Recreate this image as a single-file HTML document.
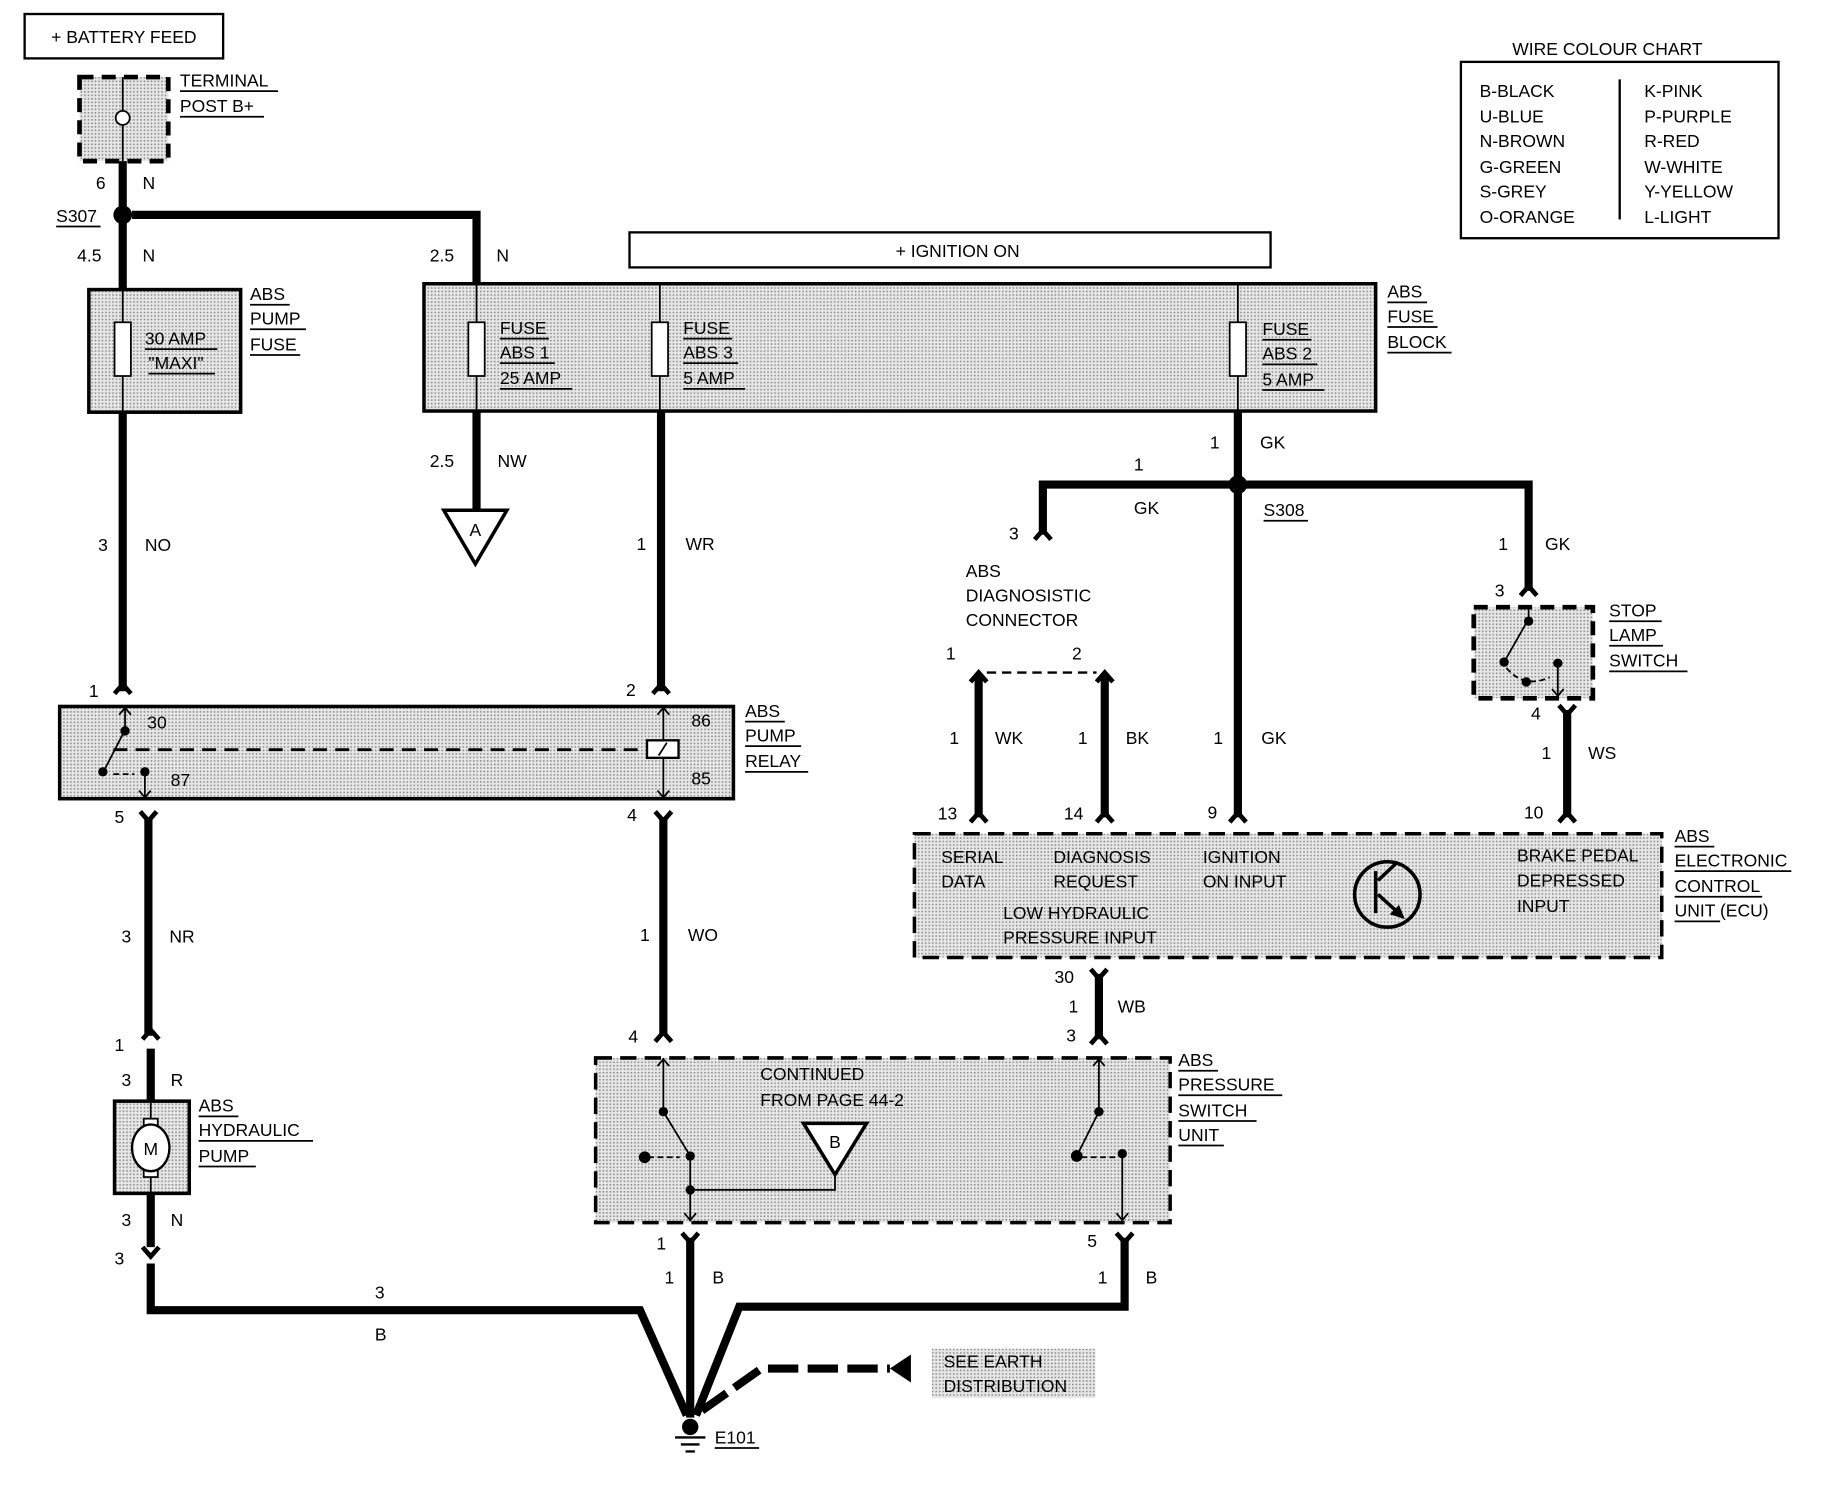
<!DOCTYPE html>
<html><head><meta charset="utf-8"><style>
html,body{margin:0;padding:0;background:#fff;}
svg{display:block;}
text{font-family:"Liberation Sans",Arial,sans-serif;font-size:15px;fill:#000;}
</style></head><body>
<svg width="1830" height="1504" viewBox="0 0 1567 1288" xmlns="http://www.w3.org/2000/svg">
<defs>
<pattern id="st" width="3" height="3" patternUnits="userSpaceOnUse">
<rect width="3" height="3" fill="#e6e6e6"/><rect width="1.3" height="1.3" fill="#8a8a8a"/>
</pattern>
<g id="cu"><path d="M-7,8 L0,0 L7,8" fill="none" stroke="#000" stroke-width="4"/></g>
<g id="cd"><path d="M-7,-8 L0,0 L7,-8" fill="none" stroke="#000" stroke-width="4"/></g>
</defs>
<rect width="1567" height="1288" fill="#fff"/>

<!-- battery feed -->
<rect x="21" y="12" width="170" height="38" fill="none" stroke="#000" stroke-width="2"/>
<text x="106" y="37" text-anchor="middle">+ BATTERY FEED</text>

<!-- terminal post -->
<rect x="68" y="66" width="76" height="72" fill="url(#st)" stroke="#000" stroke-width="4" stroke-dasharray="12,7"/>
<line x1="105" y1="66" x2="105" y2="138" stroke="#000" stroke-width="1.5"/>
<circle cx="105" cy="101" r="6" fill="#fff" stroke="#000" stroke-width="1.5"/>
<text x="154" y="74">TERMINAL</text><line x1="154" y1="78" x2="238" y2="78" stroke="#000" stroke-width="1.5"/>
<text x="154" y="96">POST B+</text><line x1="154" y1="100" x2="226" y2="100" stroke="#000" stroke-width="1.5"/>

<g stroke="#000" stroke-width="7" fill="none">
<line x1="105" y1="138" x2="105" y2="248"/>
<polyline points="113,184 408,184 408,243"/>
<line x1="105" y1="353" x2="105" y2="592"/>
<line x1="408" y1="352" x2="408" y2="437"/>
<line x1="566" y1="352" x2="566" y2="592"/>
<line x1="127" y1="700" x2="127" y2="887"/>
<line x1="568" y1="700" x2="568" y2="887"/>
<line x1="129" y1="898" x2="129" y2="943"/>
<line x1="129" y1="1022" x2="129" y2="1068"/>
<polyline points="129,1082 129,1122 548,1122 588,1212"/>
<line x1="591" y1="1060" x2="591" y2="1214"/>
<polyline points="963,1060 963,1119 633,1119 596,1212"/>
<line x1="1060" y1="352" x2="1060" y2="700"/>
<polyline points="893,458 893,415 1309,415 1309,506"/>
<line x1="838" y1="578" x2="838" y2="700"/>
<line x1="946" y1="578" x2="946" y2="700"/>
<line x1="1342" y1="608" x2="1342" y2="700"/>
<line x1="941" y1="834" x2="941" y2="890"/>
<polyline points="601,1208 652,1172 762,1172" stroke-dasharray="26,8"/>
</g>
<polygon points="762,1172 780,1160 780,1184" fill="#000"/>

<circle cx="105" cy="184" r="8" fill="#000"/>
<text x="48" y="190">S307</text><line x1="48" y1="194" x2="86" y2="194" stroke="#000" stroke-width="1.5"/>
<text x="82" y="162">6</text><text x="122" y="162">N</text>
<text x="66" y="224">4.5</text><text x="122" y="224">N</text>
<text x="368" y="224">2.5</text><text x="425" y="224">N</text>

<!-- ignition -->
<rect x="539" y="199" width="549" height="30" fill="none" stroke="#000" stroke-width="2"/>
<text x="820" y="220" text-anchor="middle">+ IGNITION ON</text>

<!-- pump fuse -->
<rect x="76" y="248" width="130" height="105" fill="url(#st)" stroke="#000" stroke-width="3"/>
<line x1="105" y1="248" x2="105" y2="353" stroke="#000" stroke-width="1.5"/>
<rect x="98" y="276" width="14" height="46" fill="#fff" stroke="#000" stroke-width="1.5"/>
<text x="124" y="295">30 AMP</text><line x1="124" y1="299" x2="186" y2="299" stroke="#000" stroke-width="1.5"/>
<text x="127" y="316">"MAXI"</text><line x1="127" y1="320" x2="184" y2="320" stroke="#000" stroke-width="1.5"/>
<text x="214" y="257">ABS</text><line x1="214" y1="261" x2="248" y2="261" stroke="#000" stroke-width="1.5"/>
<text x="214" y="278">PUMP</text><line x1="214" y1="282" x2="262" y2="282" stroke="#000" stroke-width="1.5"/>
<text x="214" y="300">FUSE</text><line x1="214" y1="304" x2="257" y2="304" stroke="#000" stroke-width="1.5"/>

<!-- fuse block -->
<rect x="363" y="243" width="815" height="109" fill="url(#st)" stroke="#000" stroke-width="3"/>
<g stroke="#000" stroke-width="1.5">
<line x1="408" y1="243" x2="408" y2="352"/><line x1="565" y1="243" x2="565" y2="352"/><line x1="1060" y1="243" x2="1060" y2="352"/>
</g>
<g fill="#fff" stroke="#000" stroke-width="1.5">
<rect x="401" y="276" width="14" height="46"/><rect x="558" y="276" width="14" height="46"/><rect x="1053" y="276" width="14" height="46"/>
</g>
<text x="428" y="286">FUSE</text><text x="428" y="307">ABS 1</text><text x="428" y="329">25 AMP</text>
<text x="585" y="286">FUSE</text><text x="585" y="307">ABS 3</text><text x="585" y="329">5 AMP</text>
<text x="1081" y="287">FUSE</text><text x="1081" y="308">ABS 2</text><text x="1081" y="330">5 AMP</text>
<g stroke="#000" stroke-width="1.5">
<line x1="428" y1="290" x2="470" y2="290"/><line x1="428" y1="311" x2="475" y2="311"/><line x1="428" y1="333" x2="490" y2="333"/>
<line x1="585" y1="290" x2="627" y2="290"/><line x1="585" y1="311" x2="632" y2="311"/><line x1="585" y1="333" x2="638" y2="333"/>
<line x1="1081" y1="291" x2="1123" y2="291"/><line x1="1081" y1="312" x2="1128" y2="312"/><line x1="1081" y1="334" x2="1134" y2="334"/>
</g>
<text x="1188" y="255">ABS</text><line x1="1188" y1="259" x2="1222" y2="259" stroke="#000" stroke-width="1.5"/>
<text x="1188" y="276">FUSE</text><line x1="1188" y1="280" x2="1231" y2="280" stroke="#000" stroke-width="1.5"/>
<text x="1188" y="298">BLOCK</text><line x1="1188" y1="302" x2="1243" y2="302" stroke="#000" stroke-width="1.5"/>

<!-- A triangle -->
<polygon points="380,437 434,437 407,483" fill="#fff" stroke="#000" stroke-width="3"/>
<text x="407" y="459" text-anchor="middle">A</text>
<text x="368" y="400">2.5</text><text x="426" y="400">NW</text>
<text x="84" y="472">3</text><text x="124" y="472">NO</text>
<text x="545" y="471">1</text><text x="587" y="471">WR</text>

<!-- relay -->
<use href="#cu" x="105" y="586"/><use href="#cu" x="566" y="586"/>
<text x="76" y="597">1</text><text x="536" y="596">2</text>
<rect x="51" y="605" width="577" height="79" fill="url(#st)" stroke="#000" stroke-width="3"/>
<g stroke="#000" stroke-width="1.5" fill="none">
<line x1="107" y1="605" x2="107" y2="625"/><path d="M102,612 L107,606 L112,612"/>
<line x1="107" y1="625" x2="89" y2="660"/>
<line x1="97" y1="642" x2="552" y2="642" stroke-width="2.5" stroke-dasharray="12,7"/>
<line x1="124" y1="662" x2="124" y2="684"/><path d="M119,677 L124,683 L129,677"/>
<line x1="97" y1="663" x2="115" y2="663" stroke-dasharray="5,3"/>
<line x1="568" y1="605" x2="568" y2="684"/><path d="M563,612 L568,606 L573,612"/><path d="M563,677 L568,683 L573,677"/>
</g>
<rect x="554" y="634" width="27" height="15" fill="#fff" stroke="#000" stroke-width="2"/>
<line x1="564" y1="647" x2="571" y2="636" stroke="#000" stroke-width="1.5"/>
<circle cx="107" cy="626" r="4"/><circle cx="88" cy="661" r="4"/><circle cx="124" cy="661" r="4"/>
<text x="126" y="624">30</text><text x="146" y="673">87</text><text x="592" y="622">86</text><text x="592" y="672">85</text>
<text x="638" y="614">ABS</text><line x1="638" y1="618" x2="672" y2="618" stroke="#000" stroke-width="1.5"/>
<text x="638" y="635">PUMP</text><line x1="638" y1="639" x2="686" y2="639" stroke="#000" stroke-width="1.5"/>
<text x="638" y="657">RELAY</text><line x1="638" y1="661" x2="692" y2="661" stroke="#000" stroke-width="1.5"/>

<use href="#cd" x="127" y="703"/><use href="#cd" x="568" y="703"/>
<text x="98" y="705">5</text><text x="537" y="703">4</text>
<text x="104" y="807">3</text><text x="145" y="807">NR</text>
<text x="548" y="806">1</text><text x="589" y="806">WO</text>

<!-- hydraulic pump -->
<use href="#cu" x="129" y="882"/><text x="98" y="900">1</text>
<text x="104" y="930">3</text><text x="146" y="930">R</text>
<rect x="98" y="943" width="64" height="79" fill="url(#st)" stroke="#000" stroke-width="3"/>
<line x1="129" y1="943" x2="129" y2="1022" stroke="#000" stroke-width="1.5"/>
<rect x="123" y="958" width="12" height="8" fill="#fff" stroke="#000" stroke-width="1.5"/>
<rect x="123" y="1000" width="12" height="8" fill="#fff" stroke="#000" stroke-width="1.5"/>
<ellipse cx="129" cy="983" rx="16" ry="20" fill="#fff" stroke="#000" stroke-width="2"/>
<text x="129" y="989" text-anchor="middle">M</text>
<text x="170" y="952">ABS</text><line x1="170" y1="956" x2="204" y2="956" stroke="#000" stroke-width="1.5"/>
<text x="170" y="973">HYDRAULIC</text><line x1="170" y1="977" x2="268" y2="977" stroke="#000" stroke-width="1.5"/>
<text x="170" y="995">PUMP</text><line x1="170" y1="999" x2="219" y2="999" stroke="#000" stroke-width="1.5"/>
<text x="104" y="1050">3</text><text x="146" y="1050">N</text>
<use href="#cd" x="129" y="1076"/><text x="98" y="1083">3</text>
<text x="321" y="1112">3</text><text x="321" y="1148">B</text>

<!-- pressure switch unit -->
<use href="#cu" x="568" y="884"/><text x="538" y="893">4</text>
<rect x="510" y="906" width="492" height="141" fill="url(#st)" stroke="#000" stroke-width="3" stroke-dasharray="14,7"/>
<text x="651" y="925">CONTINUED</text><text x="651" y="947">FROM PAGE 44-2</text>
<polygon points="688,962 742,962 715,1006" fill="#fff" stroke="#000" stroke-width="3"/>
<text x="715" y="983" text-anchor="middle">B</text>
<g stroke="#000" stroke-width="1.5" fill="none">
<polyline points="715,1006 715,1019 591,1019"/>
<line x1="568" y1="906" x2="568" y2="952"/><path d="M563,913 L568,907 L573,913"/>
<line x1="568" y1="952" x2="591" y2="990"/>
<line x1="591" y1="990" x2="591" y2="1046"/><path d="M586,1039 L591,1045 L596,1039"/>
<line x1="555" y1="991" x2="582" y2="991" stroke-dasharray="5,3"/>
<line x1="941" y1="906" x2="941" y2="952"/><path d="M936,913 L941,907 L946,913"/>
<line x1="941" y1="952" x2="922" y2="990"/>
<line x1="961" y1="988" x2="961" y2="1046"/><path d="M956,1039 L961,1045 L966,1039"/>
<line x1="926" y1="991" x2="955" y2="991" stroke-dasharray="5,3"/>
</g>
<circle cx="568" cy="952" r="4"/><circle cx="591" cy="990" r="4"/><circle cx="552" cy="991" r="5"/><circle cx="591" cy="1019" r="4"/>
<circle cx="941" cy="952" r="4"/><circle cx="922" cy="990" r="5"/><circle cx="961" cy="988" r="4"/>
<text x="1009" y="913">ABS</text><line x1="1009" y1="917" x2="1043" y2="917" stroke="#000" stroke-width="1.5"/>
<text x="1009" y="934">PRESSURE</text><line x1="1009" y1="938" x2="1098" y2="938" stroke="#000" stroke-width="1.5"/>
<text x="1009" y="956">SWITCH</text><line x1="1009" y1="960" x2="1076" y2="960" stroke="#000" stroke-width="1.5"/>
<text x="1009" y="977">UNIT</text><line x1="1009" y1="981" x2="1048" y2="981" stroke="#000" stroke-width="1.5"/>

<use href="#cd" x="591" y="1064"/><text x="562" y="1070">1</text>
<text x="569" y="1099">1</text><text x="610" y="1099">B</text>
<use href="#cd" x="963" y="1064"/><text x="931" y="1068">5</text>
<text x="940" y="1099">1</text><text x="981" y="1099">B</text>

<!-- earth -->
<rect x="798" y="1155" width="140" height="42" fill="url(#st)"/>
<text x="808" y="1171">SEE EARTH</text><text x="808" y="1192">DISTRIBUTION</text>
<circle cx="591" cy="1222" r="7" fill="#000"/>
<g stroke="#000" stroke-width="2"><line x1="578" y1="1231" x2="604" y2="1231"/><line x1="583" y1="1237" x2="599" y2="1237"/><line x1="587" y1="1243" x2="595" y2="1243"/></g>
<text x="612" y="1236">E101</text><line x1="612" y1="1240" x2="650" y2="1240" stroke="#000" stroke-width="1.5"/>

<!-- S308 area -->
<circle cx="1060" cy="415" r="8" fill="#000"/>
<text x="1036" y="384">1</text><text x="1079" y="384">GK</text>
<text x="971" y="403">1</text><text x="971" y="440">GK</text>
<text x="1082" y="442">S308</text><line x1="1082" y1="446" x2="1120" y2="446" stroke="#000" stroke-width="1.5"/>
<use href="#cu" x="893" y="454"/><text x="864" y="462">3</text>
<text x="827" y="494">ABS</text><text x="827" y="515">DIAGNOSISTIC</text><text x="827" y="536">CONNECTOR</text>
<text x="810" y="565">1</text><text x="918" y="565">2</text>
<use href="#cu" x="838" y="576"/><use href="#cu" x="946" y="576"/>
<line x1="845" y1="576" x2="939" y2="576" stroke="#000" stroke-width="2" stroke-dasharray="8,5"/>
<text x="813" y="637">1</text><text x="852" y="637">WK</text>
<text x="923" y="637">1</text><text x="964" y="637">BK</text>
<text x="1039" y="637">1</text><text x="1080" y="637">GK</text>
<text x="1283" y="471">1</text><text x="1323" y="471">GK</text>
<use href="#cu" x="1309" y="502"/><text x="1280" y="511">3</text>

<!-- stop lamp switch -->
<rect x="1262" y="520" width="102" height="78" fill="url(#st)" stroke="#000" stroke-width="4" stroke-dasharray="12,7"/>
<g stroke="#000" stroke-width="1.5" fill="none">
<line x1="1309" y1="522" x2="1309" y2="530"/>
<line x1="1309" y1="530" x2="1288" y2="567"/>
<path d="M1290,572 Q1305,590 1327,580" stroke-dasharray="5,3"/>
<line x1="1334" y1="568" x2="1334" y2="596"/><path d="M1329,590 L1334,596 L1339,590"/>
</g>
<circle cx="1309" cy="532" r="4"/><circle cx="1288" cy="567" r="4"/><circle cx="1334" cy="568" r="4"/><circle cx="1307" cy="584" r="4"/>
<text x="1378" y="528">STOP</text><line x1="1378" y1="532" x2="1423" y2="532" stroke="#000" stroke-width="1.5"/>
<text x="1378" y="549">LAMP</text><line x1="1378" y1="553" x2="1424" y2="553" stroke="#000" stroke-width="1.5"/>
<text x="1378" y="571">SWITCH</text><line x1="1378" y1="575" x2="1445" y2="575" stroke="#000" stroke-width="1.5"/>
<use href="#cd" x="1342" y="612"/><text x="1311" y="616">4</text>
<text x="1320" y="650">1</text><text x="1360" y="650">WS</text>

<!-- ECU -->
<use href="#cu" x="838" y="696"/><use href="#cu" x="946" y="696"/><use href="#cu" x="1060" y="696"/><use href="#cu" x="1342" y="696"/>
<text x="803" y="702">13</text><text x="911" y="702">14</text><text x="1034" y="701">9</text><text x="1305" y="701">10</text>
<rect x="783" y="714" width="640" height="106" fill="url(#st)" stroke="#000" stroke-width="3" stroke-dasharray="14,7"/>
<text x="806" y="739">SERIAL</text><text x="806" y="760">DATA</text>
<text x="902" y="739">DIAGNOSIS</text><text x="902" y="760">REQUEST</text>
<text x="1030" y="739">IGNITION</text><text x="1030" y="760">ON INPUT</text>
<text x="859" y="787">LOW HYDRAULIC</text><text x="859" y="808">PRESSURE INPUT</text>
<text x="1299" y="738">BRAKE PEDAL</text><text x="1299" y="759">DEPRESSED</text><text x="1299" y="781">INPUT</text>
<circle cx="1188" cy="766" r="28" fill="none" stroke="#000" stroke-width="3"/>
<g stroke="#000" stroke-width="3"><line x1="1178" y1="746" x2="1178" y2="782"/><line x1="1180" y1="754" x2="1197" y2="738"/><line x1="1180" y1="766" x2="1200" y2="784"/></g>
<polygon points="1203,787 1190,783 1198,775" fill="#000"/>
<text x="1434" y="721">ABS</text><line x1="1434" y1="725" x2="1468" y2="725" stroke="#000" stroke-width="1.5"/>
<text x="1434" y="742">ELECTRONIC</text><line x1="1434" y1="746" x2="1534" y2="746" stroke="#000" stroke-width="1.5"/>
<text x="1434" y="764">CONTROL</text><line x1="1434" y1="768" x2="1509" y2="768" stroke="#000" stroke-width="1.5"/>
<text x="1434" y="785">UNIT  (ECU)</text><line x1="1434" y1="789" x2="1473" y2="789" stroke="#000" stroke-width="1.5"/>

<use href="#cd" x="941" y="838"/><use href="#cu" x="941" y="886"/>
<text x="903" y="842">30</text><text x="915" y="867">1</text><text x="957" y="867">WB</text><text x="913" y="892">3</text>

<!-- chart -->
<text x="1295" y="47">WIRE COLOUR CHART</text>
<rect x="1251" y="53" width="272" height="151" fill="none" stroke="#000" stroke-width="2"/>
<line x1="1387" y1="68" x2="1387" y2="188" stroke="#000" stroke-width="2"/>
<text x="1267" y="83">B-BLACK</text><text x="1267" y="105">U-BLUE</text><text x="1267" y="126">N-BROWN</text><text x="1267" y="148">G-GREEN</text><text x="1267" y="169">S-GREY</text><text x="1267" y="191">O-ORANGE</text>
<text x="1408" y="83">K-PINK</text><text x="1408" y="105">P-PURPLE</text><text x="1408" y="126">R-RED</text><text x="1408" y="148">W-WHITE</text><text x="1408" y="169">Y-YELLOW</text><text x="1408" y="191">L-LIGHT</text>
</svg>
</body></html>
